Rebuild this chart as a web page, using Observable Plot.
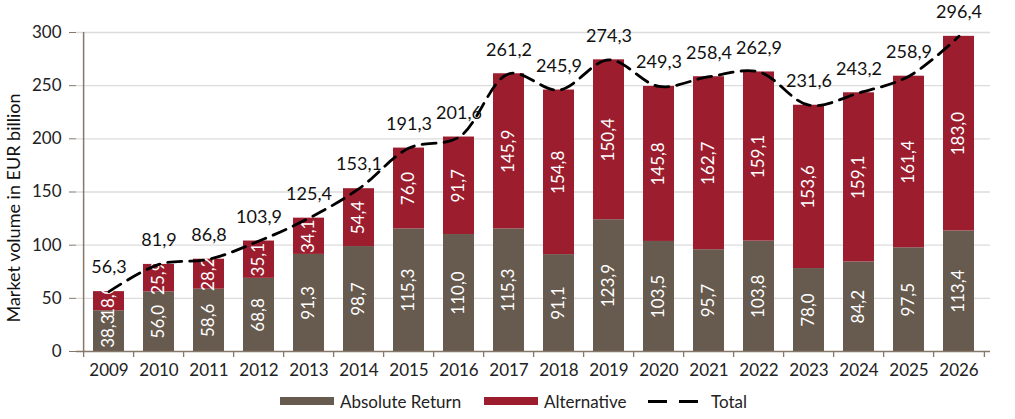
<!DOCTYPE html>
<html>
<head>
<meta charset="utf-8">
<script src="https://cdn.jsdelivr.net/npm/d3@7"></script>
<script src="https://cdn.jsdelivr.net/npm/@observablehq/plot@0.6"></script>
<style>
  html, body { margin: 0; padding: 0; background: #fff; }
  body { width: 1015px; height: 419px; overflow: hidden; font-family: Lato, "Open Sans", sans-serif; }
  #chart svg { display: block; }
  #legend { position: relative; height: 34px; font-size: 17px; color: #222; }
  .item { position: absolute; top: 4px; height: 24px; display: flex; align-items: center; }
  .sw { display: inline-block; width: 54px; height: 8px; margin-right: 6px; }
  .dash { display: inline-block; width: 50px; height: 3px; margin-right: 13px;
          background: linear-gradient(to right, #000 0 19px, transparent 19px 31px, #000 31px 50px); }
</style>
</head>
<body>
<div id="chart"></div>
<div id="legend"></div>
<script>
const years = ["2009","2010","2011","2012","2013","2014","2015","2016","2017","2018","2019","2020","2021","2022","2023","2024","2025","2026"];
const absoluteReturn = [38.3,56.0,58.6,68.8,91.3,98.7,115.3,110.0,115.3,91.1,123.9,103.5,95.7,103.8,78.0,84.2,97.5,113.4];
const alternative = [18.0,25.9,28.2,35.1,34.1,54.4,76.0,91.7,145.9,154.8,150.4,145.8,162.7,159.1,153.6,159.1,161.4,183.0];
const totals = [56.3,81.9,86.8,103.9,125.4,153.1,191.3,201.6,261.2,245.9,274.3,249.3,258.4,262.9,231.6,243.2,258.9,296.4];
const yTicks = [0,50,100,150,200,250,300];
const seriesNames = ["Absolute Return","Alternative","Total"];
const colors = ["#675a4e","#9b1d2e"];
const yTitle = "Market volume in EUR billion";

const fmt = v => v.toFixed(1).replace(".", ",");

const segs = [];
years.forEach((y, i) => {
  segs.push({year: y, series: seriesNames[0], y1: 0, y2: absoluteReturn[i], v: absoluteReturn[i]});
  segs.push({year: y, series: seriesNames[1], y1: absoluteReturn[i], y2: absoluteReturn[i] + alternative[i], v: alternative[i]});
});
const tot = years.map((y, i) => ({year: y, total: totals[i]}));

const W = 1015, H = 385, mL = 76, mR = 25, mT = 32, mB = 34;
const step = (W - mL - mR) / years.length;
const axisColor = "#85776a";

const chart = Plot.plot({
  width: W, height: H,
  marginLeft: mL, marginRight: mR, marginTop: mT, marginBottom: mB,
  style: {fontFamily: "Lato, 'Open Sans', sans-serif", background: "#fff"},
  x: {domain: years, paddingInner: 0.39, paddingOuter: 0.195, label: null},
  y: {domain: [0, 300], label: null},
  color: {domain: seriesNames.slice(0, 2), range: colors},
  marks: [
    Plot.ruleY(yTicks.filter(t => t > 0), {stroke: "#dcdcdc", strokeWidth: 1.3}),
    Plot.barY(segs, {x: "year", y1: "y1", y2: "y2", fill: "series"}),
    Plot.text(segs.filter(d => d.series === seriesNames[1]), {
      x: "year", y: d => (d.y1 + d.y2) / 2, text: d => fmt(d.v), rotate: -90,
      fill: "#fff", fontSize: 17
    }),
    Plot.text(segs.filter(d => d.series === seriesNames[0]), {
      x: "year", y: d => (d.y1 + d.y2) / 2, text: d => fmt(d.v), rotate: -90,
      fill: "#fff", fontSize: 17
    }),
    Plot.line(tot, {x: "year", y: "total", curve: "catmull-rom", stroke: "#000", strokeWidth: 2.8, strokeDasharray: "14,8"}),
    Plot.text(tot, {x: "year", y: "total", text: d => fmt(d.total), dy: -24, fill: "#111", fontSize: 18}),
    Plot.ruleY([0], {stroke: axisColor, strokeWidth: 1.5}),
    Plot.ruleX([years[0]], {x: d => d, dx: -step / 2, y1: 0, y2: 300, stroke: axisColor, strokeWidth: 1.5}),
    Plot.ruleX(years, {x: d => d, dx: -step / 2, y1: 0, y2: 0, insetBottom: -6, stroke: axisColor, strokeWidth: 1.3}),
    Plot.ruleX([years[years.length - 1]], {x: d => d, dx: step / 2, y1: 0, y2: 0, insetBottom: -6, stroke: axisColor, strokeWidth: 1.3}),
    Plot.axisX({tickSize: 0, tickPadding: 12, fontSize: 17, fill: "#222"}),
    Plot.axisY({ticks: yTicks, tickSize: 7, tickPadding: 8, stroke: axisColor, fontSize: 17, fill: "#222"}),
    Plot.text([yTitle], {frameAnchor: "left", textAnchor: "middle", dx: -62, dy: 16, rotate: -90, fontSize: 18, fill: "#111"})
  ]
});
document.getElementById("chart").appendChild(chart);

const legend = document.getElementById("legend");
const items = [
  {label: seriesNames[0], kind: "sw", color: colors[0], left: 280},
  {label: seriesNames[1], kind: "sw", color: colors[1], left: 484},
  {label: seriesNames[2], kind: "dash", left: 648}
];
items.forEach(it => {
  const div = document.createElement("div");
  div.className = "item";
  div.style.left = it.left + "px";
  const s = document.createElement("span");
  s.className = it.kind;
  if (it.color) s.style.background = it.color;
  div.appendChild(s);
  const t = document.createElement("span");
  t.textContent = it.label;
  div.appendChild(t);
  legend.appendChild(div);
});
</script>
</body>
</html>
